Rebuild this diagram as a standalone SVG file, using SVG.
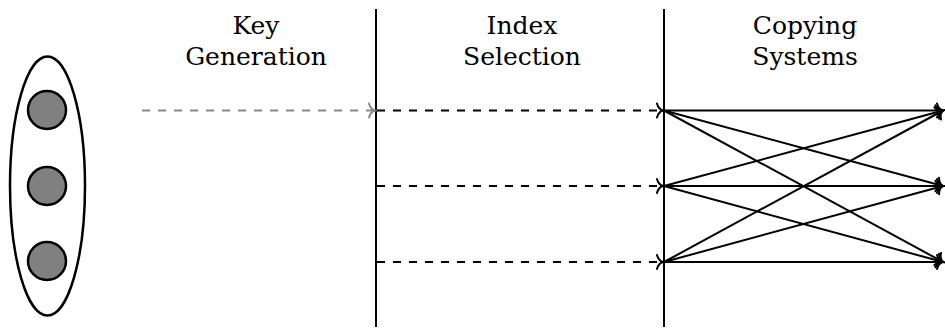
<svg xmlns="http://www.w3.org/2000/svg" width="945" height="332" viewBox="0 0 945 332">
<defs>
<marker id="tg" markerUnits="userSpaceOnUse" viewBox="-8 -9 10 18" refX="0" refY="0" markerWidth="10" markerHeight="18" orient="auto" overflow="visible">
<path d="M-6,-7 C-5,-3 -2,-0.6 0,0 C-2,0.6 -5,3 -6,7" fill="none" stroke="#888" stroke-width="2" stroke-linecap="round"/>
</marker>
<marker id="tb" markerUnits="userSpaceOnUse" viewBox="-8 -9 10 18" refX="0" refY="0" markerWidth="10" markerHeight="18" orient="auto" overflow="visible">
<path d="M-6,-7 C-5,-3 -2,-0.6 0,0 C-2,0.6 -5,3 -6,7" fill="none" stroke="#000" stroke-width="2" stroke-linecap="round"/>
</marker>
</defs>
<g id="group">
<ellipse cx="47.5" cy="186" rx="37.5" ry="129.5" fill="none" stroke="#000" stroke-width="2.5"/>
</g>
<g fill="#808080" stroke="#000" stroke-width="2.5">
<g id="node1"><circle cx="47" cy="110" r="19"/></g>
<g id="node2"><circle cx="47" cy="186" r="19"/></g>
<g id="node3"><circle cx="47" cy="261" r="19"/></g>
</g>
<text x="256" y="34" font-family="DejaVu Serif" font-size="25" text-anchor="middle">Key</text>
<text x="256" y="65" font-family="DejaVu Serif" font-size="25" text-anchor="middle">Generation</text>
<text x="522" y="34" font-family="DejaVu Serif" font-size="25" text-anchor="middle">Index</text>
<text x="522" y="65" font-family="DejaVu Serif" font-size="25" text-anchor="middle">Selection</text>
<text x="805" y="34" font-family="DejaVu Serif" font-size="25" text-anchor="middle">Copying</text>
<text x="805" y="65" font-family="DejaVu Serif" font-size="25" text-anchor="middle">Systems</text>
<g id="dividers" stroke="#000" stroke-width="2">
<line x1="376" y1="9" x2="376" y2="327"/>
<line x1="664" y1="9" x2="664" y2="327"/>
</g>
<g id="connectors" fill="none" stroke-width="2">
<line stroke="#888" stroke-dasharray="8 8" x1="142" y1="110.5" x2="375" y2="110.5" marker-end="url(#tg)"/>
<g stroke="#000" stroke-dasharray="8 8">
<line x1="377" y1="110.5" x2="663" y2="110.5" marker-end="url(#tb)"/>
<line x1="377" y1="186" x2="663" y2="186" marker-end="url(#tb)"/>
<line x1="377" y1="262" x2="663" y2="262" marker-end="url(#tb)"/>
</g>
<g stroke="#000">
<line x1="664" y1="110.5" x2="943" y2="110.5" marker-end="url(#tb)"/>
<line x1="664" y1="110.5" x2="943" y2="186" marker-end="url(#tb)"/>
<line x1="664" y1="110.5" x2="943" y2="262" marker-end="url(#tb)"/>
<line x1="664" y1="186" x2="943" y2="110.5" marker-end="url(#tb)"/>
<line x1="664" y1="186" x2="943" y2="186" marker-end="url(#tb)"/>
<line x1="664" y1="186" x2="943" y2="262" marker-end="url(#tb)"/>
<line x1="664" y1="262" x2="943" y2="110.5" marker-end="url(#tb)"/>
<line x1="664" y1="262" x2="943" y2="186" marker-end="url(#tb)"/>
<line x1="664" y1="262" x2="943" y2="262" marker-end="url(#tb)"/>
</g>
</g>
</svg>
